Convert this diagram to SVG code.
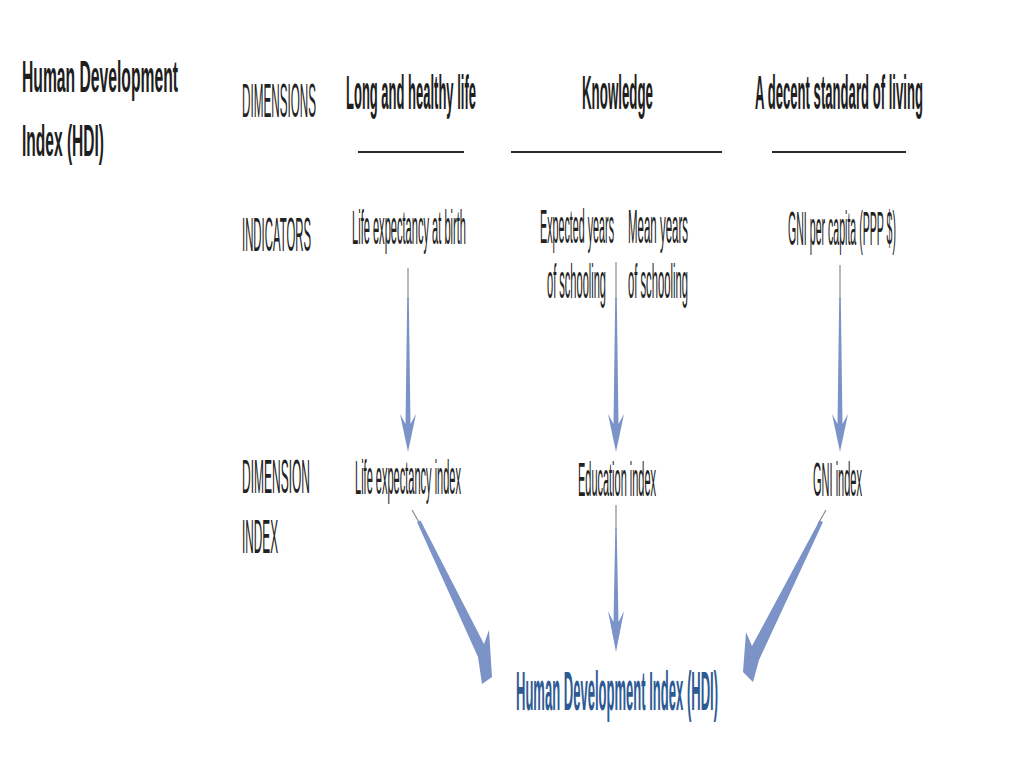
<svg xmlns="http://www.w3.org/2000/svg" width="1024" height="768" viewBox="0 0 1024 768">
<style>
text{font-family:"Liberation Sans",Arial,sans-serif;fill:#222;}
.n{font-size:11px;}
.b{font-size:12px;font-weight:bold;fill:#1e1e1e;}
.t{font-size:15px;font-weight:bold;fill:#1e1e1e;}
.hdi{font-size:13px;font-weight:bold;fill:#2e5a94;}
.ul{stroke:#2a2a2a;stroke-width:2.2;}
.thin{stroke:#8a8a8a;stroke-width:1.2;fill:none;}
.arr{fill:#7b93c6;}
</style>
<rect width="1024" height="768" fill="#ffffff"/>
<g id="title">
<text class="t" transform="matrix(1 0 0 2.9 22 92)" textLength="156" lengthAdjust="spacingAndGlyphs">Human Development</text>
<text class="t" transform="matrix(1 0 0 2.9 22 156)" textLength="82" lengthAdjust="spacingAndGlyphs">Index (HDI)</text>
</g>
<g id="row-labels">
<text class="n" transform="matrix(1 0 0 4.4 242 117)" textLength="74" lengthAdjust="spacingAndGlyphs">DIMENSIONS</text>
<text class="n" transform="matrix(1 0 0 4.4 242 251)" textLength="69" lengthAdjust="spacingAndGlyphs">INDICATORS</text>
<text class="n" transform="matrix(1 0 0 4.4 242 493)" textLength="68" lengthAdjust="spacingAndGlyphs">DIMENSION</text>
<text class="n" transform="matrix(1 0 0 4.4 242 553)" textLength="36" lengthAdjust="spacingAndGlyphs">INDEX</text>
</g>
<g id="dim-long">
<text class="b" transform="matrix(1 0 0 4 346 109)" textLength="130" lengthAdjust="spacingAndGlyphs">Long and healthy life</text>
<line class="ul" x1="358" y1="152" x2="464" y2="152"/>
</g>
<g id="dim-knowledge">
<text class="b" transform="matrix(1 0 0 4 582 109)" textLength="71" lengthAdjust="spacingAndGlyphs">Knowledge</text>
<line class="ul" x1="511" y1="152" x2="722" y2="152"/>
</g>
<g id="dim-living">
<text class="b" transform="matrix(1 0 0 4 755 109)" textLength="168" lengthAdjust="spacingAndGlyphs">A decent standard of living</text>
<line class="ul" x1="772" y1="152" x2="906" y2="152"/>
</g>
<g id="ind-life">
<text class="n" transform="matrix(1 0 0 4.4 352 244)" textLength="114" lengthAdjust="spacingAndGlyphs">Life expectancy at birth</text>
</g>
<g id="ind-expected">
<text class="n" transform="matrix(1 0 0 4.4 540 243)" textLength="74" lengthAdjust="spacingAndGlyphs">Expected years</text>
<text class="n" transform="matrix(1 0 0 4.4 547 298)" textLength="59" lengthAdjust="spacingAndGlyphs">of schooling</text>
</g>
<g id="ind-mean">
<text class="n" transform="matrix(1 0 0 4.4 628 243)" textLength="60" lengthAdjust="spacingAndGlyphs">Mean years</text>
<text class="n" transform="matrix(1 0 0 4.4 628 298)" textLength="60" lengthAdjust="spacingAndGlyphs">of schooling</text>
</g>
<g id="ind-gni">
<text class="n" transform="matrix(1 0 0 4.4 788 245)" textLength="108" lengthAdjust="spacingAndGlyphs">GNI per capita (PPP $)</text>
</g>
<g id="idx-life">
<text class="n" transform="matrix(1 0 0 4.4 355 494)" textLength="106" lengthAdjust="spacingAndGlyphs">Life expectancy index</text>
</g>
<g id="idx-education">
<text class="n" transform="matrix(1 0 0 4.4 578 496)" textLength="78" lengthAdjust="spacingAndGlyphs">Education index</text>
</g>
<g id="idx-gni">
<text class="n" transform="matrix(1 0 0 4.4 813 496)" textLength="49" lengthAdjust="spacingAndGlyphs">GNI index</text>
</g>
<g id="hdi">
<text class="hdi" transform="matrix(1 0 0 4.3 516 710)" textLength="202" lengthAdjust="spacingAndGlyphs">Human Development Index (HDI)</text>
</g>
<g id="connectors">
<line class="thin" x1="408" y1="268" x2="408" y2="300"/>
<path class="arr" d="M407.2,298 L408.8,298 L410.5,424 L416,414 L408,452 L400,414 L405.5,424 Z"/>
<line class="thin" x1="616" y1="262" x2="616" y2="300"/>
<path class="arr" d="M615.2,298 L616.8,298 L618.5,424 L624,414 L616,452 L608,414 L613.5,424 Z"/>
<line class="thin" x1="840" y1="265" x2="840" y2="300"/>
<path class="arr" d="M839.2,298 L840.8,298 L842.5,424 L848,414 L840,452 L832,414 L837.5,424 Z"/>
<line class="thin" x1="616" y1="505" x2="616" y2="530"/>
<path class="arr" d="M615.3,528 L616.7,528 L618.5,622 L624,611 L616,652 L608,611 L613.5,622 Z"/>
<line class="thin" x1="412" y1="510" x2="420" y2="524"/>
<path class="arr" d="M417,522 L420.5,520.5 L484,644 L489,630 L492,677 L482,684 L478,657 Z"/>
<line class="thin" x1="826" y1="510" x2="818" y2="524"/>
<path class="arr" d="M819.5,520.5 L823,522 L759,660 L753,682 L743,672 L746,632 L752,646 Z"/>
</g>
</svg>
